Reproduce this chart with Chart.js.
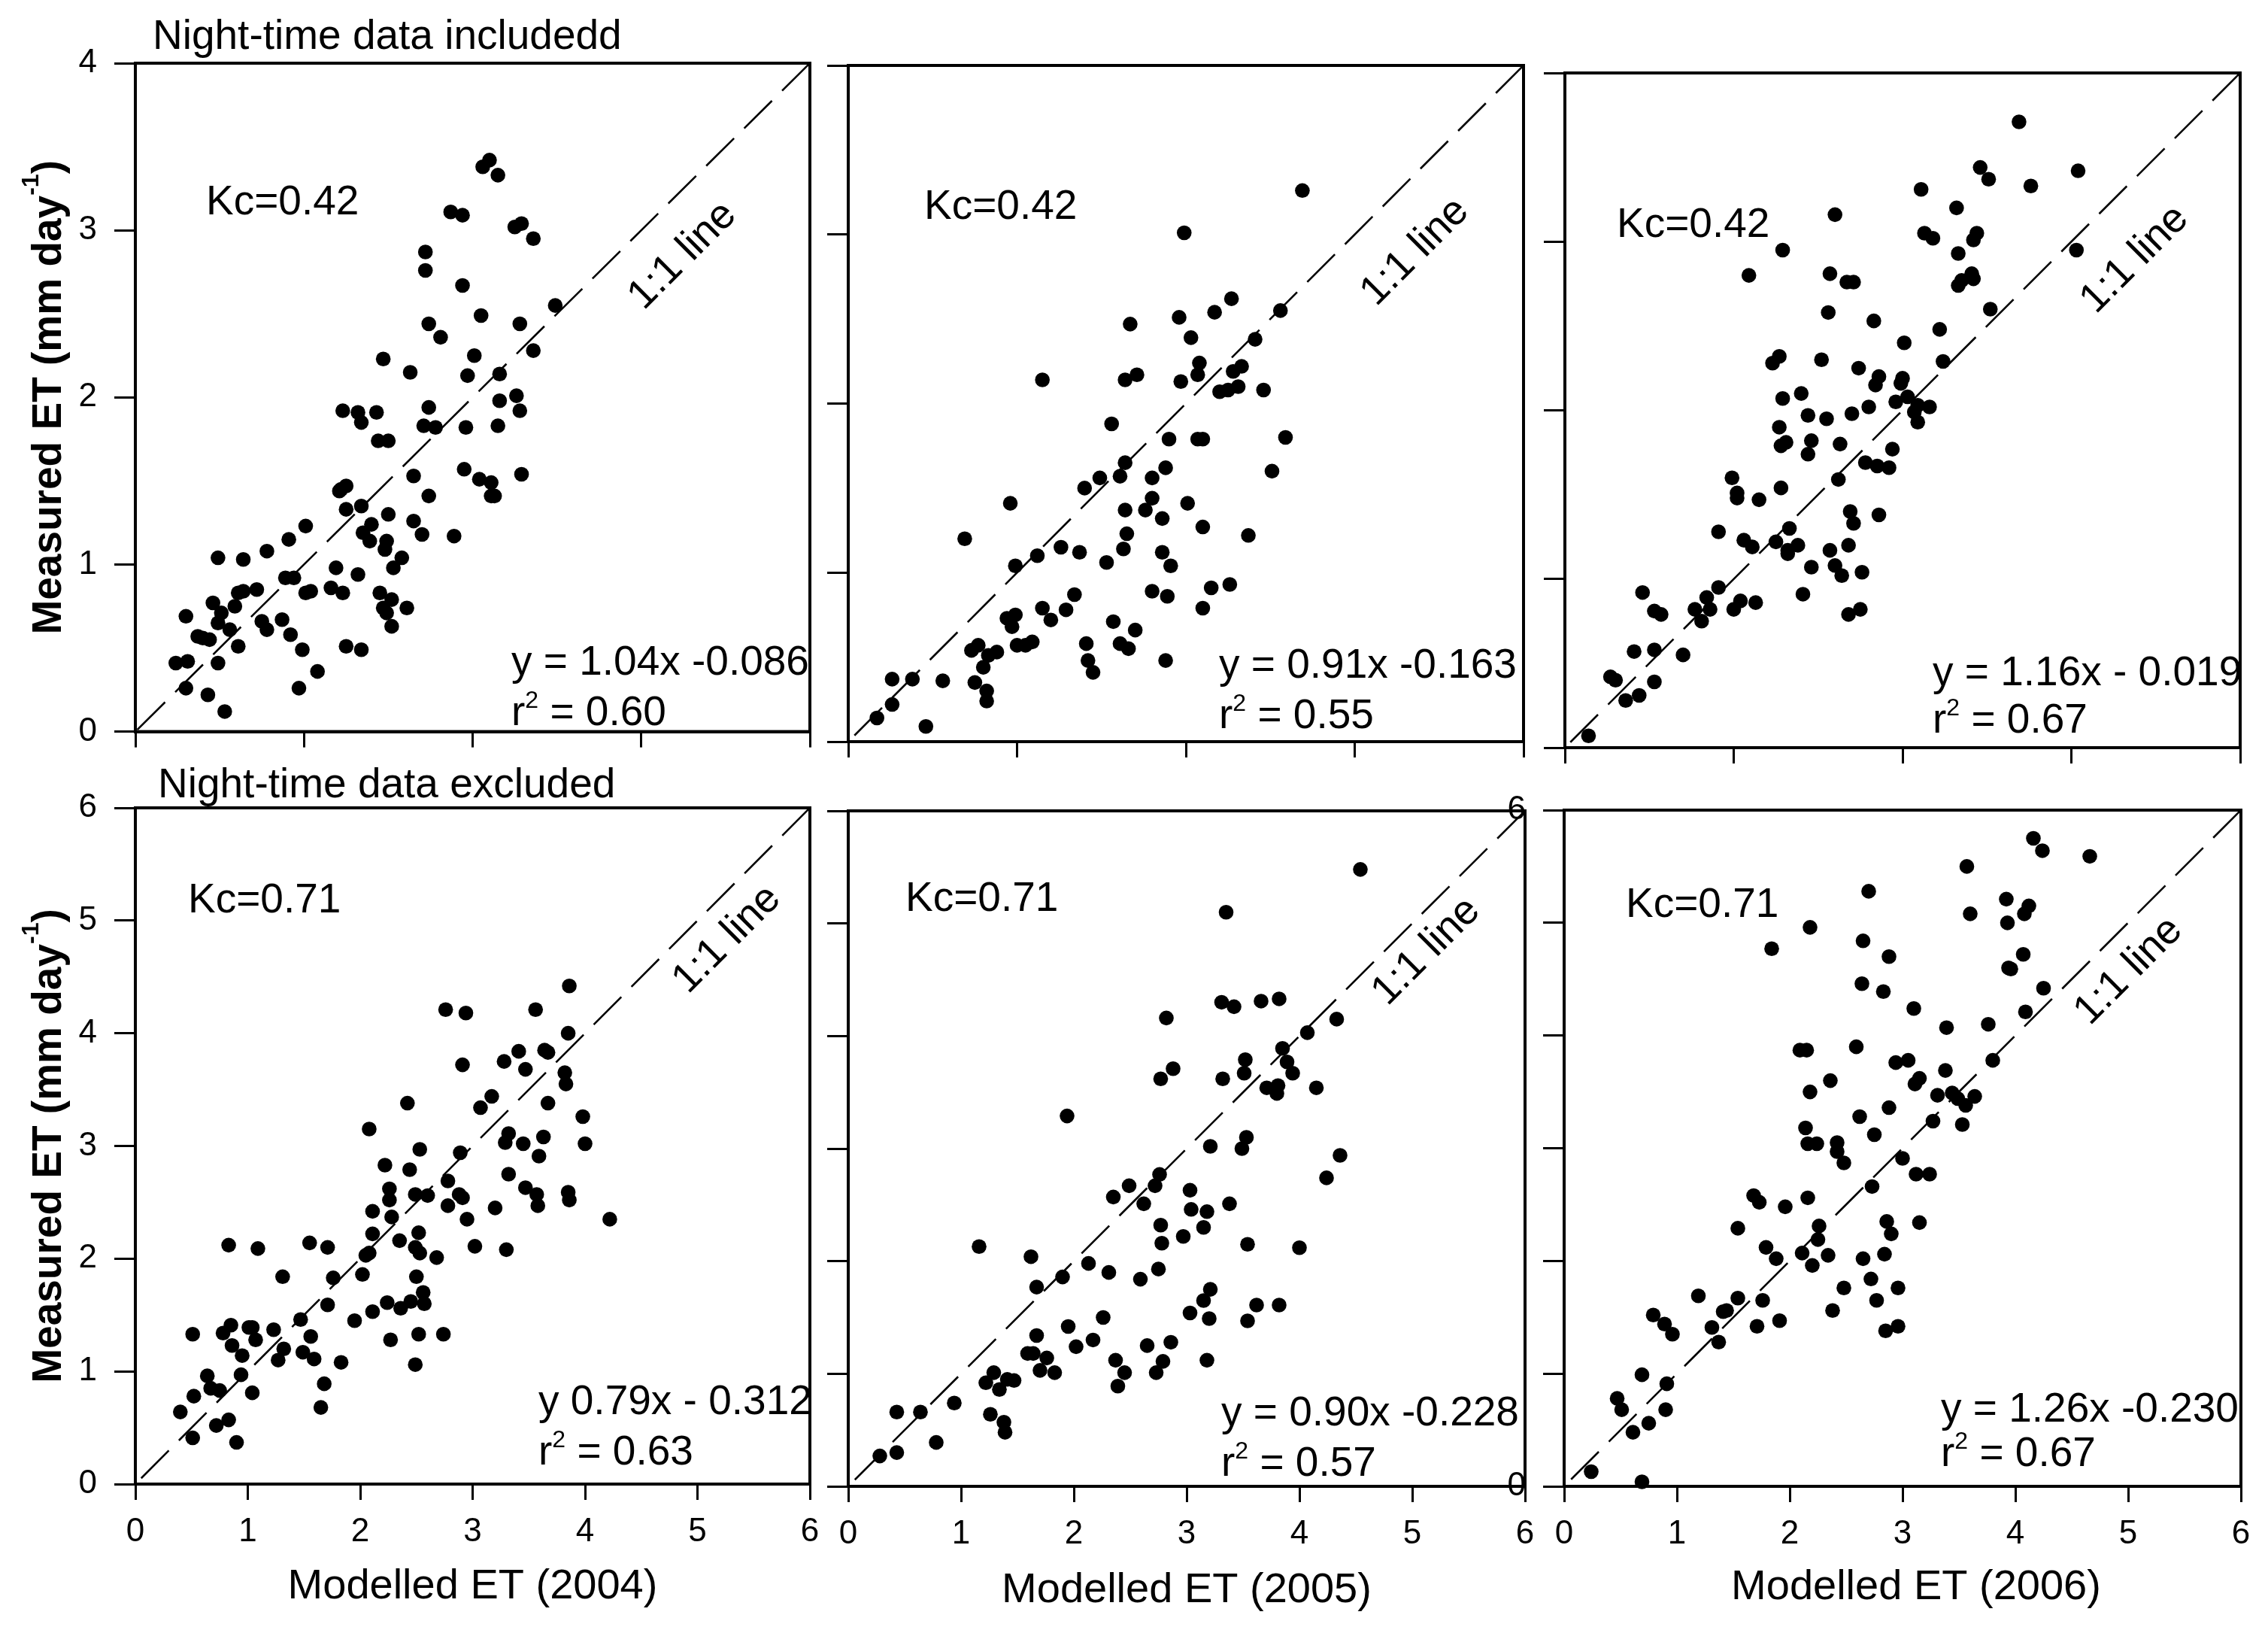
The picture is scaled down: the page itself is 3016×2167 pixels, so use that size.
<!DOCTYPE html>
<html>
<head>
<meta charset="utf-8">
<script src="https://cdn.jsdelivr.net/npm/chart.js@4.4.1/dist/chart.umd.min.js"></script>
<style>
html,body{margin:0;padding:0;background:#fff;}
#wrap{position:relative;width:3016px;height:2167px;overflow:hidden;background:#fff;}
#wrap canvas{position:absolute;}
</style>
</head>
<body>
<div id="wrap"></div>
<script>
// ---------------- DATA ----------------
// Night-time data included (Kc = 0.42), x = modelled ET, y = measured ET
const incl2004_x = [0.24,0.31,0.30,0.30,0.37,0.40,0.44,0.43,0.46,0.49,0.49,0.49,0.51,0.53,0.56,0.59,0.61,0.61,0.64,0.64,0.72,0.75,0.78,0.78,0.87,0.89,0.91,0.92,0.94,0.99,0.97,1.01,1.01,1.04,1.08,1.16,1.19,1.22,1.21,1.25,1.23,1.25,1.25,1.23,1.32,1.34,1.34,1.32,1.34,1.35,1.39,1.40,1.43,1.44,1.50,1.47,1.45,1.49,1.48,1.50,1.47,1.49,1.52,1.52,1.53,1.58,1.61,1.63,1.65,1.65,1.70,1.72,1.72,1.74,1.74,1.71,1.78,1.74,1.81,1.87,1.94,1.89,1.94,1.97,1.96,1.95,2.01,2.05,2.06,2.10,2.15,2.04,2.11,2.11,2.13,2.16,2.16,2.15,2.25,2.29,2.36,2.28,2.36,2.26,2.28,2.29,2.49];
const incl2004_y = [0.41,0.42,0.69,0.26,0.57,0.56,0.55,0.22,0.77,1.04,0.41,0.65,0.71,0.12,0.61,0.75,0.83,0.51,0.84,1.03,0.85,0.66,0.61,1.08,0.67,0.92,1.15,0.58,0.92,0.49,0.26,1.23,0.83,0.84,0.36,0.86,0.98,1.45,1.44,1.47,0.83,1.33,0.51,1.92,1.91,1.85,1.35,0.94,0.49,1.19,1.14,1.24,1.91,1.74,1.74,2.23,0.83,1.14,1.09,1.30,0.74,0.71,0.79,0.63,0.98,1.04,0.74,2.15,1.53,1.26,1.18,2.87,2.76,2.44,1.94,1.83,1.82,1.41,2.36,3.11,3.09,1.17,2.67,2.13,1.82,1.57,2.25,2.49,3.38,3.42,3.33,1.51,1.49,1.41,1.41,2.14,1.98,1.83,3.02,3.04,2.95,2.44,2.28,2.01,1.92,1.54,2.55];

const incl2005_x = [0.17,0.26,0.26,0.38,0.46,0.56,0.69,0.73,0.77,0.75,0.80,0.82,0.82,0.83,0.88,0.94,0.97,0.99,0.96,0.99,1.00,1.05,1.09,1.12,1.15,1.15,1.20,1.26,1.29,1.34,1.37,1.40,1.41,1.42,1.45,1.49,1.53,1.56,1.57,1.61,1.61,1.63,1.64,1.64,1.65,1.66,1.64,1.67,1.71,1.70,1.76,1.80,1.80,1.80,1.86,1.86,1.88,1.90,1.91,1.89,1.88,1.96,1.97,1.99,2.01,2.03,2.08,2.07,2.07,2.10,2.10,2.10,2.15,2.17,2.20,2.25,2.31,2.27,2.28,2.33,2.26,2.37,2.41,2.46,2.51,2.56,2.59,2.69];
const incl2005_y = [0.14,0.37,0.22,0.37,0.09,0.36,1.20,0.54,0.57,0.35,0.44,0.30,0.24,0.51,0.53,0.73,0.68,0.75,1.41,1.04,0.57,0.57,0.59,1.10,2.14,0.79,0.72,1.15,0.78,0.87,1.12,1.50,0.58,0.48,0.41,1.56,1.06,1.88,0.71,1.57,0.58,1.14,1.65,1.37,1.23,0.55,2.14,2.47,2.17,0.66,1.37,1.44,1.56,0.89,1.32,1.12,1.62,1.79,1.04,0.86,0.48,2.51,2.13,3.01,1.41,2.39,2.24,2.17,1.79,1.79,1.27,0.79,0.91,2.54,2.07,2.08,2.10,2.62,2.19,2.22,0.93,1.22,2.38,2.08,1.60,2.55,1.80,3.26];

const incl2006_x = [0.14,0.27,0.30,0.36,0.41,0.44,0.46,0.53,0.57,0.53,0.53,0.70,0.77,0.81,0.84,0.86,0.91,0.91,1.00,1.04,1.13,0.99,1.02,1.02,1.06,1.11,1.15,1.09,1.25,1.23,1.27,1.28,1.29,1.29,1.27,1.28,1.31,1.33,1.32,1.32,1.38,1.40,1.41,1.44,1.44,1.46,1.46,1.52,1.55,1.56,1.57,1.57,1.60,1.60,1.63,1.62,1.64,1.67,1.71,1.69,1.71,1.68,1.68,1.75,1.76,1.70,1.74,1.78,1.80,1.83,1.84,1.86,1.85,1.86,1.92,1.94,1.96,1.99,2.00,2.01,2.03,2.07,2.09,2.09,2.16,2.11,2.13,2.18,2.22,2.24,2.32,2.33,2.33,2.35,2.41,2.42,2.42,2.44,2.46,2.51,2.52,2.69,2.76,3.03,3.04];
const incl2006_y = [0.07,0.42,0.40,0.28,0.57,0.31,0.92,0.81,0.79,0.58,0.39,0.55,0.82,0.75,0.89,0.82,0.95,1.28,0.82,0.87,0.86,1.60,1.51,1.48,1.23,1.19,1.47,2.80,1.22,2.28,2.32,1.54,2.07,2.95,1.90,1.79,1.81,1.30,1.15,1.17,1.20,2.10,0.91,1.74,1.97,1.07,1.82,2.30,1.95,2.58,1.17,2.81,3.16,1.08,1.80,1.59,1.02,2.76,2.76,1.40,1.33,1.20,0.79,0.82,1.04,1.98,2.25,1.69,2.02,2.53,2.15,2.20,1.67,1.38,1.66,1.77,2.05,2.16,2.19,2.40,2.08,1.99,1.93,2.03,2.02,3.31,3.05,3.02,2.48,2.29,3.20,2.93,2.74,2.77,2.81,2.78,3.01,3.05,3.44,3.37,2.60,3.71,3.33,2.95,3.42];

// Night-time data excluded (Kc = 0.71)
const excl2004_x = [0.40,0.51,0.52,0.51,0.64,0.67,0.75,0.72,0.83,0.78,0.83,0.85,0.86,0.90,0.94,0.95,1.01,1.04,1.04,1.07,1.09,1.23,1.27,1.32,1.31,1.47,1.49,1.55,1.56,1.59,1.68,1.65,1.71,1.71,1.76,1.83,1.95,2.02,2.05,2.08,2.08,2.11,2.11,2.11,2.22,2.24,2.26,2.26,2.28,2.27,2.35,2.36,2.42,2.44,2.45,2.49,2.49,2.53,2.52,2.53,2.50,2.52,2.49,2.56,2.57,2.60,2.68,2.74,2.76,2.78,2.78,2.89,2.91,2.88,2.91,2.94,2.95,3.02,3.07,3.17,3.20,3.29,3.28,3.30,3.32,3.32,3.41,3.45,3.47,3.47,3.56,3.57,3.58,3.59,3.63,3.64,3.67,3.67,3.82,3.83,3.85,3.86,3.85,3.86,3.98,4.00,4.22];
const excl2004_y = [0.64,1.33,0.78,0.41,0.96,0.85,0.83,0.52,0.57,1.34,2.12,1.41,1.23,0.37,0.97,1.14,1.39,1.39,0.81,1.28,2.09,1.37,1.10,1.20,1.84,1.46,1.17,2.14,1.31,1.11,0.89,0.68,2.10,1.59,1.83,1.08,1.45,1.86,2.03,2.05,3.15,2.42,2.22,1.53,2.83,1.61,2.62,2.52,2.37,1.28,2.16,1.56,3.38,2.79,1.62,2.57,2.10,2.97,2.23,2.05,1.84,1.33,1.06,1.70,1.60,2.56,2.01,1.33,4.21,2.69,2.47,2.94,3.72,2.57,2.54,4.18,2.35,2.11,3.34,3.44,2.45,3.03,3.75,2.08,3.11,2.75,3.84,3.02,3.68,2.63,4.21,2.57,2.47,2.91,3.08,3.85,3.83,3.38,3.65,3.55,4.00,4.42,2.59,2.52,3.26,3.02,2.35];

const excl2005_x = [0.28,0.43,0.43,0.64,0.78,0.94,1.16,1.22,1.29,1.34,1.26,1.38,1.39,1.41,1.47,1.59,1.64,1.62,1.67,1.67,1.70,1.76,1.83,1.90,1.94,1.95,2.02,2.13,2.17,2.26,2.31,2.35,2.37,2.39,2.45,2.49,2.59,2.62,2.65,2.72,2.73,2.75,2.76,2.77,2.77,2.78,2.79,2.82,2.86,2.88,2.97,3.03,3.04,3.03,3.15,3.15,3.18,3.18,3.20,3.21,3.21,3.31,3.32,3.35,3.38,3.42,3.49,3.51,3.52,3.53,3.54,3.54,3.62,3.66,3.71,3.80,3.81,3.82,3.82,3.85,3.89,3.94,4.00,4.07,4.15,4.24,4.33,4.36,4.54];
const excl2005_y = [0.27,0.30,0.66,0.66,0.39,0.74,2.13,0.92,1.01,0.86,0.64,0.57,0.48,0.95,0.94,1.18,1.18,2.04,1.34,1.77,1.03,1.14,1.01,1.86,3.29,1.42,1.24,1.98,1.30,1.50,1.90,2.57,1.12,0.89,1.01,2.67,1.84,2.51,1.25,2.67,1.01,1.93,2.77,2.32,3.62,2.16,1.11,4.16,1.28,3.71,2.22,2.63,2.46,1.54,1.65,2.30,2.44,1.12,1.49,1.75,3.02,4.30,3.62,5.10,2.51,4.26,3.00,3.67,3.79,3.10,2.15,1.47,1.61,4.31,3.54,3.49,3.56,4.33,1.61,3.89,3.77,3.67,2.12,4.03,3.54,2.74,4.15,2.94,5.48];

const excl2006_x = [0.24,0.69,0.47,0.51,0.61,0.69,0.75,0.79,0.89,0.91,0.90,0.96,1.19,1.31,1.37,1.41,1.44,1.54,1.54,1.68,1.73,1.71,1.76,1.79,1.88,1.84,1.91,1.96,2.09,2.15,2.18,2.18,2.14,2.16,2.24,2.16,2.11,2.20,2.26,2.25,2.34,2.36,2.38,2.42,2.42,2.48,2.48,2.59,2.62,2.64,2.65,2.65,2.70,2.72,2.73,2.75,2.77,2.83,2.84,2.85,2.86,2.88,2.88,2.90,2.96,2.96,2.94,3.00,3.05,3.10,3.11,3.15,3.12,3.24,3.15,3.27,3.31,3.38,3.39,3.44,3.49,3.56,3.53,3.64,3.57,3.60,3.76,3.80,3.92,3.93,3.94,3.96,4.07,4.08,4.12,4.09,4.16,4.24,4.25,4.66];
const excl2006_y = [0.13,0.04,0.78,0.68,0.48,0.99,0.56,1.52,1.44,0.91,0.68,1.35,1.69,1.41,1.28,1.55,1.56,2.29,1.67,2.58,2.52,1.42,1.65,2.12,2.02,4.77,1.47,2.48,3.87,3.87,3.50,4.96,3.18,3.04,3.04,2.56,2.07,1.96,2.31,2.19,2.05,3.60,1.56,3.05,2.97,2.87,1.76,3.90,3.28,4.46,4.84,2.02,5.28,1.84,2.66,3.12,1.65,4.39,2.06,1.38,2.35,3.36,4.70,2.24,1.42,1.76,3.76,2.91,3.78,4.24,3.57,3.62,2.77,2.77,2.34,3.24,3.47,3.69,4.07,3.49,3.44,3.38,3.21,3.46,5.50,5.08,4.10,3.78,5.21,5.00,4.60,4.59,4.72,5.08,5.15,4.21,5.75,5.64,4.42,5.59];

// Tick values and labels
const ticksTop = [0,1,2,3,4];
const ticksBottom = [0,1,2,3,4,5,6];
const axisMax = [4, 6];             // top row, bottom row
const kcLabels = ['Kc=0.42','Kc=0.71'];
const equations = ['y = 1.04x -0.086','y = 0.91x -0.163','y = 1.16x - 0.019','y 0.79x - 0.312','y = 0.90x -0.228','y = 1.26x -0.230'];
const r2Values = ['0.60','0.55','0.67','0.63','0.57','0.67'];
const xTitles = ['Modelled ET (2004)','Modelled ET (2005)','Modelled ET (2006)'];
const rowTitles = ['Night-time data includedd','Night-time data excluded'];
const yTitleMain = 'Measured ET (mm day';
const yTitleSup = '-1';
const lineLabel = '1:1 line';

// ---------------- LAYOUT (positions only) ----------------
const FONT = '"Liberation Sans", Arial, Helvetica, sans-serif';
const layout = [
  {box:[180,84,1077,982],   pad:[170,70,70,40],  kc:[94,201], eq:[500,813], r2y:880, ll:[728,256], title:[23,-19], yTitle:true},
  {box:[1128,87,2026,986],  pad:[90,70,70,40],   kc:[101,204], eq:[493,814], r2y:881, ll:[754,248]},
  {box:[2081,97,2979,994],  pad:[90,70,70,40],   kc:[69,218], eq:[489,814], r2y:877, ll:[758,248]},
  {box:[180,1074,1077,1973],pad:[170,70,70,185], kc:[70,139], eq:[536,806], r2y:873, ll:[787,175], title:[30,-14], yTitle:true, xt:[0,152]},
  {box:[1128,1078,2028,1976],pad:[90,70,70,185], kc:[76,133], eq:[496,817], r2y:884, ll:[769,187], xt:[0,154]},
  {box:[2080,1077,2980,1976],pad:[90,70,70,185], kc:[82,142], eq:[501,813], r2y:872, ll:[751,214], xt:[18,150], edgeLabels:true}
];

const series = [
  [incl2004_x, incl2004_y],[incl2005_x, incl2005_y],[incl2006_x, incl2006_y],
  [excl2004_x, excl2004_y],[excl2005_x, excl2005_y],[excl2006_x, excl2006_y]
];

function annotPlugin(i){
  const L = layout[i], row = i < 3 ? 0 : 1, col = i % 3;
  return {
    id: 'annot' + i,
    afterDraw(chart){
      const ctx = chart.ctx, a = chart.chartArea;
      ctx.save();
      ctx.strokeStyle = '#000'; ctx.lineWidth = 4;
      ctx.strokeRect(a.left, a.top, a.right - a.left, a.bottom - a.top);
      ctx.fillStyle = '#000';
      ctx.textAlign = 'left'; ctx.textBaseline = 'alphabetic';
      ctx.font = '55px ' + FONT;
      ctx.fillText(kcLabels[row], a.left + L.kc[0], a.top + L.kc[1]);
      ctx.fillText(equations[i], a.left + L.eq[0], a.top + L.eq[1]);
      // r^2
      let x = a.left + L.eq[0]; const y = a.top + L.r2y;
      ctx.fillText('r', x, y); x += ctx.measureText('r').width;
      ctx.font = '32px ' + FONT; ctx.fillText('2', x, y - 23); x += ctx.measureText('2').width;
      ctx.font = '55px ' + FONT; ctx.fillText(' = ' + r2Values[i], x, y);
      // 1:1 line label
      ctx.save();
      ctx.translate(a.left + L.ll[0], a.top + L.ll[1]);
      ctx.rotate(-Math.PI / 4);
      ctx.textAlign = 'center'; ctx.textBaseline = 'middle';
      ctx.fillText(lineLabel, 0, 0);
      ctx.restore();
      // row title
      if (L.title){
        ctx.fillText(rowTitles[row], a.left + L.title[0], a.top + L.title[1]);
      }
      // x title
      if (L.xt){
        ctx.font = '56px ' + FONT;
        ctx.textAlign = 'center';
        ctx.fillText(xTitles[col], (a.left + a.right) / 2 + L.xt[0], a.bottom + L.xt[1]);
        ctx.textAlign = 'left';
      }
      // y title
      if (L.yTitle){
        ctx.save();
        ctx.translate(a.left - 99, (a.top + a.bottom) / 2);
        ctx.rotate(-Math.PI / 2);
        const fMain = 'bold 55px ' + FONT, fSup = 'bold 32px ' + FONT;
        ctx.font = fMain; const w1 = ctx.measureText(yTitleMain).width; const w3 = ctx.measureText(')').width;
        ctx.font = fSup; const w2 = ctx.measureText(yTitleSup).width;
        let tx = -(w1 + w2 + w3) / 2;
        ctx.font = fMain; ctx.fillText(yTitleMain, tx, 0); tx += w1;
        ctx.font = fSup; ctx.fillText(yTitleSup, tx, -30); tx += w2;
        ctx.font = fMain; ctx.fillText(')', tx, 0);
        ctx.restore();
      }
      ctx.restore();
    }
  };
}

const wrap = document.getElementById('wrap');
layout.forEach((L, i) => {
  const row = i < 3 ? 0 : 1, col = i % 3;
  const [bl, bt, br, bb] = L.box;
  const [pl, pt, pr, pb] = L.pad;
  const W = (br - bl) + pl + pr, H = (bb - bt) + pt + pb;
  const cv = document.createElement('canvas');
  cv.width = W; cv.height = H;
  cv.style.left = (bl - pl) + 'px'; cv.style.top = (bt - pt) + 'px';
  cv.style.width = W + 'px'; cv.style.height = H + 'px';
  wrap.appendChild(cv);
  const mx = axisMax[row];
  const tickVals = row === 0 ? ticksTop : ticksBottom;
  const [xs, ys] = series[i];
  const pts = xs.map((v, k) => ({x: v, y: ys[k]}));
  const showYLabels = col === 0;
  const showXLabels = row === 1;
  new Chart(cv, {
    type: 'scatter',
    data: {
      datasets: [
        {type: 'line', data: [{x: mx, y: mx}, {x: 0, y: 0}], borderColor: '#000', borderWidth: 2.6,
         borderDash: [52, 19], pointRadius: 0, fill: false, tension: 0, order: 2},
        {data: pts, backgroundColor: '#000', borderWidth: 0, pointRadius: 9.8, pointHoverRadius: 9.8,
         clip: false, order: 1}
      ]
    },
    options: {
      responsive: false, animation: false, devicePixelRatio: 1,
      layout: {padding: {left: 0, top: pt, right: pr, bottom: 0}},
      plugins: {legend: {display: false}, tooltip: {enabled: false}},
      events: [],
      scales: {
        x: {
          type: 'linear', min: 0, max: mx, position: 'bottom',
          afterBuildTicks: s => { s.ticks = tickVals.map(v => ({value: v})); },
          afterFit: s => { s.height = pb; },
          ticks: {display: showXLabels, color: '#000', font: {family: FONT, size: 44}, padding: 16, maxRotation: 0, autoSkip: false},
          grid: {drawOnChartArea: false, drawTicks: true, tickLength: 21, lineWidth: 3, tickWidth: 3, color: '#000', tickColor: '#000'},
          border: {display: true, color: '#000', width: 4}
        },
        y: {
          type: 'linear', min: 0, max: mx, position: 'left',
          afterBuildTicks: s => { s.ticks = tickVals.map(v => ({value: v})); },
          afterFit: s => { s.width = pl; },
          ticks: {display: showYLabels || !!L.edgeLabels, color: '#000', font: {family: FONT, size: 44}, padding: 23,
                  callback: v => (showYLabels || v === 0 || v === mx) ? String(v) : ''},
          grid: {drawOnChartArea: false, drawTicks: true, tickLength: 28, lineWidth: 3, tickWidth: 3, color: '#000', tickColor: '#000'},
          border: {display: true, color: '#000', width: 4}
        }
      }
    },
    plugins: [annotPlugin(i)]
  });
});
</script>
</body>
</html>
